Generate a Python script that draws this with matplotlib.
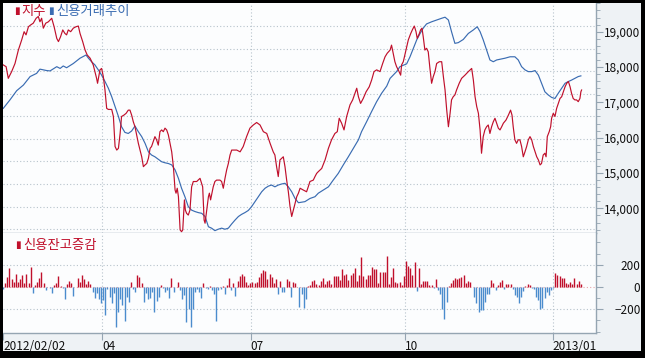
import numpy as np
import matplotlib
matplotlib.use("Agg")
import matplotlib.pyplot as plt
from matplotlib.patches import Rectangle
from matplotlib.ticker import FuncFormatter

plt.rcParams['font.family'] = ['Noto Sans CJK KR', 'DejaVu Sans']

# index (지수): trading-day position and value
index_day = [0.1, 1.3, 2.2, 3.6, 5.0, 6.4, 7.8, 8.8, 9.6, 10.6,
             11.5, 12.6, 13.8, 14.7, 15.4, 16.1, 16.8, 17.8, 18.9, 20.3,
             21.3, 22.4, 23.1, 24.0, 24.9, 25.8, 26.5, 27.2, 28.2, 29.3,
             30.4, 31.4, 32.1, 33.2, 34.2, 35.1, 36.3, 37.6, 39.0, 39.4,
             40.4, 41.1, 41.8, 42.5, 43.2, 43.9, 45.3, 46.0, 46.7, 47.4,
             48.1, 48.8, 49.4, 50.4, 51.3, 52.2, 52.9, 53.6, 54.3, 55.0,
             55.7, 56.4, 57.1, 57.8, 58.5, 59.2, 59.9, 60.6, 61.3, 61.9,
             62.6, 63.3, 64.0, 64.7, 65.4, 66.1, 66.8, 67.5, 68.2, 68.9,
             69.6, 70.3, 71.0, 71.7, 72.1, 72.6, 73.1, 73.8, 74.4, 74.9,
             75.6, 76.0, 76.5, 77.2, 77.9, 78.6, 79.3, 80.7, 82.1, 83.2,
             83.8, 84.2, 84.9, 85.6, 86.0, 86.5, 87.6, 88.3, 89.0, 90.4,
             91.1, 91.8, 92.5, 93.2, 93.9, 94.6, 95.3, 97.4, 98.8, 100.1,
             101.5, 102.9, 104.3, 105.7, 107.1, 108.5, 109.9, 111.3, 112.6, 113.3,
             114.0, 114.7, 115.4, 116.8, 117.5, 118.2, 118.9, 119.6, 120.3, 121.0,
             121.7, 122.4, 123.1, 123.8, 125.1, 126.5, 127.2, 127.9, 129.3, 130.0,
             130.7, 131.4,
             132.8, 134.2, 135.6, 136.9, 138.3, 139.3, 140.1, 141.1, 142.1, 143.2,
             144.6, 145.7, 146.7, 147.4, 148.1, 149.0, 150.1, 151.3, 152.6, 153.6,
             154.6, 155.7, 157.1, 158.2, 159.2, 160.1, 161.3, 161.9, 162.6, 163.3,
             164.0, 164.7, 165.7, 166.1, 166.8, 167.9, 168.9, 169.9, 170.7, 171.4,
             172.1, 172.6, 173.5, 174.0, 174.6, 175.1, 175.8, 176.5, 177.2, 177.9,
             178.6, 179.3, 180.0, 180.7, 181.8, 182.8, 183.5, 184.2, 184.9, 185.6,
             186.3, 186.9, 187.6, 188.3, 189.0, 190.1, 191.1, 192.5, 193.9, 195.3,
             196.0, 196.7, 197.4, 198.1, 198.8, 199.4, 200.1, 200.8, 201.5, 202.2,
             202.9, 203.6, 204.3, 205.0, 205.7, 206.4, 207.1, 207.8, 208.5, 209.6,
             210.6, 211.5, 212.1, 212.6, 213.3, 214.0, 214.7, 215.4, 216.1, 216.8,
             217.5, 218.2, 218.9, 219.6, 220.3, 221.0, 221.7, 222.4, 223.1, 223.8,
             224.4, 225.1, 225.8, 226.3, 226.8, 227.6, 228.2, 228.6, 229.3, 230.0,
             230.7, 231.4, 232.1, 232.8, 233.5, 234.2, 234.9, 235.6, 236.3, 236.9,
             237.6, 238.3, 239.0, 239.7, 240.4, 240.8, 241.1]
index_val = [18060, 18010, 17680, 17870, 18100, 18480, 18770, 19000, 18910, 19140,
             19190, 19240, 19380, 19430, 19280, 19380, 19100, 19240, 19280, 19380,
             19140, 18810, 18720, 18860, 19050, 18950, 18910, 19050, 19000, 19100,
             19140, 19160, 18950, 18720, 18480, 18340, 18250, 18060, 17680, 17540,
             17920, 17960, 17730, 17350, 16830, 16800, 16800, 16600, 15750, 15650,
             15700, 16120, 16600, 16640, 16690, 16780, 16780, 16640, 16450, 16310,
             16080, 15840, 15650, 15460, 15180, 15230, 15270, 15420, 15700, 15750,
             15890, 16030, 15940, 15790, 16170, 16220, 16170, 16270, 16220, 16080,
             15840, 15600, 15180, 14520, 14430, 14570, 14330, 13390, 13340, 13390,
             14240, 13950, 13860, 13810, 13950, 14610, 14760, 14760, 14850, 14610,
             13670, 13580, 13950, 14330, 14430, 14240, 14610, 14760, 14800, 14800,
             14760, 14570, 14850, 15090, 15270, 15510, 15650, 15650, 15600, 15750,
             16030, 16270, 16360, 16430, 16360, 16170, 16120, 15840, 15600, 15510,
             15180, 14900, 15370, 15460, 15180, 14800, 14470, 14050, 13770, 13950,
             14140, 14330, 14430, 14570, 14520, 14470, 14610, 14760, 14800, 14900,
             14990, 15040,
             15130, 15370, 15700, 15940, 16120, 16170, 16550, 16410, 16220, 16600,
             16930, 17070, 17260, 17400, 17160, 16970, 17110, 17300, 17440, 17630,
             17870, 17920, 17870, 18100, 18290, 18390, 18480, 18620, 18390, 18150,
             18010, 17920, 17770, 18060, 18150, 18480, 18770, 18950, 19070, 19160,
             19000, 18810, 18950, 19050, 19100, 18860, 18480, 18530, 18430, 17960,
             17540, 17730, 17870, 18100, 18150, 18150, 17730, 17350, 16780, 16310,
             16690, 17070, 17160, 17210, 17350, 17540, 17680, 17770, 17870, 17960,
             17630, 17160, 16880, 16690, 16220, 15560, 16030, 16220, 16310, 16360,
             16120, 16310, 16450, 16550, 16410, 16270, 16220, 16310, 16410, 16500,
             16640, 16780, 16640, 16310, 15940, 15840, 15940, 15940, 15750, 15460,
             15600, 15750, 15940, 16030, 15940, 15750, 15600, 15460, 15370, 15230,
             15270, 15510, 15560, 15460, 16030, 16170, 16310, 16550, 16690, 16600,
             16830, 16970, 17110, 17160, 17300, 17440, 17540, 17590, 17440, 17260,
             17110, 17070, 17070, 17020, 17110, 17300, 17350]

# credit trend (신용거래추이), drawn on the same scale
credit_day = [0.1, 2.9, 5.7, 8.5, 11.3, 14.0, 15.4, 18.2, 19.6, 22.4,
              23.8, 25.1, 26.5, 29.3, 32.1, 34.6, 35.6, 36.9, 38.3, 39.7,
              41.1, 42.5, 43.9, 45.3, 46.7, 48.1, 49.4, 50.8, 52.2, 53.6,
              55.0, 56.4, 57.8, 59.2, 60.6, 61.9, 63.3, 64.7, 66.1, 67.5,
              68.9, 70.3, 71.7, 73.1, 74.4, 75.8, 77.2, 78.6, 80.0, 81.4,
              82.8, 84.2, 85.6, 86.9, 88.3, 89.7, 91.1, 92.5, 93.9, 95.3,
              96.7, 98.1, 99.4, 100.8, 102.2, 103.6, 105.0, 106.4, 107.8, 109.2,
              110.6, 111.9, 113.3, 114.7, 116.1, 117.5, 118.9, 120.3, 121.7, 123.1,
              125.8, 127.9, 130.0, 131.4, 133.5, 135.6, 137.6, 139.7, 141.8, 143.9,
              146.0, 148.1, 149.4, 151.5, 153.6, 155.7, 157.8, 159.9, 161.3, 162.6,
              164.0, 165.4, 166.8, 168.2, 169.6, 171.0, 172.4, 173.8, 175.1, 176.5,
              178.6, 180.7, 182.8, 184.2, 185.6, 186.9, 188.3, 189.7, 191.8, 193.9,
              196.0, 197.6, 198.8, 200.1, 201.5, 202.9, 204.3, 205.7, 207.1, 209.2,
              211.3, 213.3, 214.7, 216.1, 217.5, 218.9, 220.3, 221.7, 223.1, 224.4,
              225.8, 227.2, 228.6, 230.0, 231.4, 232.8, 234.2, 235.6, 236.9, 238.3,
              239.7, 240.8]
credit_val = [16830, 17070, 17330, 17490, 17730, 17820, 17940, 17900, 17890, 18010,
              17960, 18030, 17980, 18100, 18250, 18340, 18250, 18150, 18060, 17920,
              17770, 17590, 17400, 17160, 16880, 16600, 16310, 16150, 16120, 16190,
              16330, 16170, 16030, 15840, 15600, 15510, 15460, 15390, 15320, 15290,
              15270, 15230, 15090, 14850, 14570, 14330, 14050, 13950, 13910, 13880,
              13860, 13770, 13480, 13440, 13370, 13410, 13440, 13410, 13440, 13560,
              13670, 13770, 13830, 13880, 13940, 14050, 14190, 14330, 14470, 14570,
              14630, 14660, 14610, 14660, 14690, 14710, 14610, 14470, 14280, 14160,
              14190, 14280, 14330, 14430, 14520, 14610, 14800, 14990, 15230, 15460,
              15700, 15940, 16170, 16450, 16740, 17020, 17260, 17460, 17680, 17770,
              17870, 18010, 18050, 18090, 18290, 18530, 18770, 18950, 19100, 19220,
              19280, 19330, 19380, 19410, 19330, 19000, 18670, 18690, 18780, 18950,
              19050, 19140, 19000, 18770, 18480, 18200, 18150, 18200, 18220, 18250,
              18290, 18290, 18200, 18010, 17920, 17870, 17870, 17900, 17770, 17540,
              17300, 17210, 17140, 17110, 17260, 17400, 17540, 17590, 17630, 17680,
              17730, 17750]

# 신용잔고증감 (daily change of margin balance)
margin_chg = [-20, 33, 93, 171, 72, 42, 117, 42, 75, 108, 33, 117, 33, 183, -57, 15, 48, 78, 135, 36,
              -27, 3, -12, -57, 15, 33, 102, 9, -9, -111, 24, 54, 39, -81, 3, 78, 42, 111, 69, 27,
              54, 30, -48, -96, -51, -108, -141, -117, -252, -21, -87, -147, -51, -363, -225, -111, -162, -303, -87, -138,
              45, -21, -45, 105, 87, 33, -132, -57, -108, -102, -45, -222,
              -123, -87, 21, -6, -48, -27, -96, 81, -42, -3, 45, -27, -111, -75, -312, -195, -363, -201, -45, -21,
              -42, -99, 36, -12, -21, 6, -27, -63, -303, -27, -18, 9, -66, 21, 81, -27, 36, -78, 54, 99,
              117, 102, 48, 21, 39, 45, 33, 45, 93, 123, 153, 147, 72, 117, 93, 33, 72, -63, 54, -48,
              -48, 69, 57, -87, 45, 39, 0, -177, -63, -192,
              -111, 9, 15, 54, 66, 27, 18, 57, 81, 27, 54, 63, 27, 102, 96, 102, 63, 162, 108, 120,
              66, 111, 123, 174, 54, 108, 273, 102, 75, 111, 111, 183, 165, 159, 39, 138, 132, 132, 282, 30,
              93, 168, 48, 39, 42, 21, 102, 234, 192, 171, 108, 222, -33, 171, 30, 57, 54, 57, 15, 21,
              -12, 72,
              -24, -66, -195, -291, -138, 9, 33, 63, 78, 72, 84, 87, 108, 36, 54, 45, 0, -87, -147, -228,
              -207, -207, -132, -63, -63, 60, 39, -30, 21, 42, 63, -18, 27, 30, 24, -21, -72, -87, -147, -87,
              -39, 6, 30, 21, -12, -18, -87, -117, -195, -186, -102, -45, -69, -27, -12, 126, 108, 102, 81, 81,
              36, 30, 42, 24, 84, 30, 51, 24]
margin_last_day = 240.8

tick_days = [0, 41.4, 103.2, 167.6, 229.0]
tick_labels = ['2012/02/02', '04', '07', '10', '2013/01']

RED = '#c0102c'
BLUE = '#3a6cb2'
BAR_BLUE = '#4b8ccd'
GRID = '#b7c3cc'
AXC = '#95a5b2'
PANEL = '#fcfdfe'
MARGIN = '#eef2f5'

W, H = 645, 358
fig = plt.figure(figsize=(W / 100, H / 100), dpi=100, facecolor=MARGIN)


def box(l, t, r, b):
    return [l / W, 1 - b / H, (r - l) / W, (b - t) / H]


ax1 = fig.add_axes(box(3, 3, 596, 233), facecolor=PANEL)
ax2 = fig.add_axes(box(3, 233, 596, 333), facecolor=PANEL)

x_max = 247.1
dots = (0, (1, 2))

# ---- top panel: index and credit trend
ax1.set_xlim(0, x_max)
ax1.set_ylim(13303, 19812)
ax1.hlines(np.linspace(0.017, 0.9, 10), 0, 1, transform=ax1.transAxes,
           colors=GRID, lw=0.8, linestyles=dots, zorder=0)
ax1.vlines(tick_days[1:], 0, 1, transform=ax1.get_xaxis_transform(),
           colors=GRID, lw=0.8, linestyles=dots, zorder=0)
ax1.plot(credit_day, credit_val, color=BLUE, lw=0.85, zorder=2)
ax1.plot(index_day, index_val, color=RED, lw=0.85, zorder=3)

ax1.yaxis.tick_right()
ax1.set_yticks(np.arange(14000, 19001, 1000))
ax1.set_yticks(np.arange(13400, 19801, 200), minor=True)
ax1.yaxis.set_major_formatter(FuncFormatter(lambda v, p: f'{v:,.0f}'))
ax1.tick_params(axis='y', which='major', length=5, color=AXC, labelsize=8.5,
                labelcolor='#111111', pad=27)
ax1.tick_params(axis='y', which='minor', length=3, color=AXC)
for lbl in ax1.get_yticklabels():
    lbl.set_horizontalalignment('right')
ax1.set_xticks([])

# ---- bottom panel: margin balance change
bar_x = np.linspace(0, margin_last_day, len(margin_chg))
vals = np.array(margin_chg)
ax2.set_xlim(0, x_max)
ax2.set_ylim(-413, 484)
ax2.axhline(200, color=GRID, lw=0.8, ls=dots, zorder=0)
ax2.axhline(-200, color=GRID, lw=0.8, ls=dots, zorder=0)
ax2.axhline(0, color='#e4a5aa', lw=0.8, ls=dots, zorder=0)
ax2.vlines(tick_days[1:], 0, 1, transform=ax2.get_xaxis_transform(),
           colors=GRID, lw=0.8, linestyles=dots, zorder=0)
ax2.vlines(bar_x, 0, vals, colors=[RED if v > 0 else BAR_BLUE for v in vals],
           lw=1.0, zorder=2)

ax2.yaxis.tick_right()
ax2.set_yticks([-200, 0, 200])
ax2.set_yticks(np.arange(-400, 401, 100), minor=True)
ax2.tick_params(axis='y', which='major', length=5, color=AXC, labelsize=8.5,
                labelcolor='#111111', pad=27)
ax2.tick_params(axis='y', which='minor', length=3, color=AXC)
for lbl in ax2.get_yticklabels():
    lbl.set_horizontalalignment('right')

ax2.set_xticks(tick_days)
ax2.set_xticklabels(tick_labels)
ax2.tick_params(axis='x', length=5, color=AXC, labelsize=8.5,
                labelcolor='#111111', pad=0)
for lbl in ax2.get_xticklabels():
    lbl.set_horizontalalignment('left')

for ax in (ax1, ax2):
    for side in ('left', 'top'):
        ax.spines[side].set_visible(False)
    for side in ('right', 'bottom'):
        ax.spines[side].set_color(AXC)
        ax.spines[side].set_linewidth(1.0)

# ---- legends
def ftext(x, y, s, color, size=9.6, fam=None):
    kw = {} if fam is None else {'family': fam}
    fig.text(x / W, 1 - y / H, s, color=color, fontsize=size,
             ha='left', va='center', **kw)


ftext(14, 11, '▮', RED, 7.5, 'DejaVu Sans')
ftext(21, 11, '지수', RED)
ftext(48, 11, '▮', BLUE, 7.5, 'DejaVu Sans')
ftext(56, 11, '신용거래추이', BLUE)
ftext(15, 245, '▮', RED, 7.5, 'DejaVu Sans')
ftext(23, 245, '신용잔고증감', RED)

# ---- black outer frame
for rect in [(0, 0, 3, H), (0, 0, W, 3), (641, 0, 4, H), (0, 351, W, 7)]:
    x, y, w, h = rect
    fig.add_artist(Rectangle((x / W, 1 - (y + h) / H), w / W, h / H,
                             transform=fig.transFigure, color='black', lw=0))

fig.savefig('out.png', dpi=100, facecolor=MARGIN)
